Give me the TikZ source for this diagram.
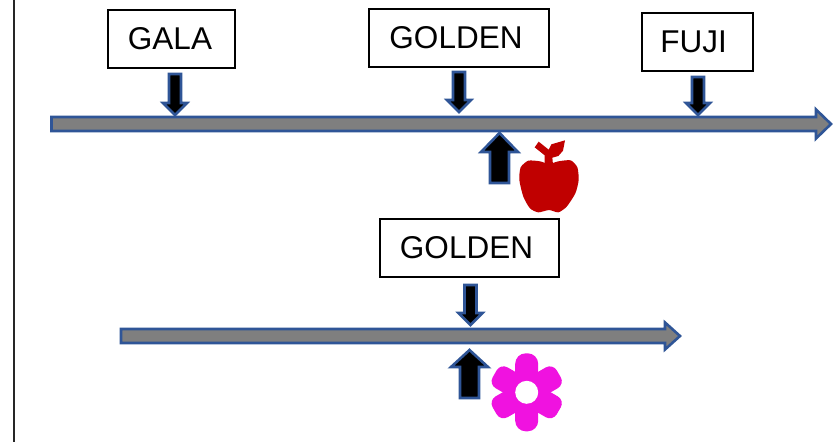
\documentclass[tikz,border=0pt]{standalone}
\usepackage{fontspec}
\setmainfont{Liberation Sans}
\definecolor{arrowblue}{HTML}{2F5597}
\definecolor{shaftgray}{HTML}{7F7F7F}
\definecolor{applered}{HTML}{C00000}
\definecolor{petalpink}{HTML}{F012E0}
\tikzset{
  labelbox/.style={draw=black,line width=1.8pt,fill=white,inner sep=0pt,font=\fontsize{31.5}{36}\selectfont},
  blockarrow/.style={draw=arrowblue,line width=2.6pt,fill=black,miter limit=4},
  longarrow/.style={draw=arrowblue,line width=2.6pt,fill=shaftgray},
}
% centre x, tail y, head base y, tip y, half shaft, half head
\newcommand{\blockarrowshape}[6]{%
  \draw[blockarrow] ({#1-#5},#2) -- ({#1+#5},#2) -- ({#1+#5},#3) -- ({#1+#6},#3)
    -- (#1,#4) -- ({#1-#6},#3) -- ({#1-#5},#3) -- cycle;}
% left x, right x, centre y, head start x, half body, half head
\newcommand{\longarrowshape}[6]{%
  \draw[longarrow] (#1,{#3-#5}) -- (#4,{#3-#5}) -- (#4,{#3-#6}) -- (#2,#3)
    -- (#4,{#3+#6}) -- (#4,{#3+#5}) -- (#1,{#3+#5}) -- cycle;}
\begin{document}
\begin{tikzpicture}[x=1pt,y=-1pt]
\useasboundingbox (0,0) rectangle (834,442);
\fill[white] (0,0) rectangle (834,442);
% left rule
\coordinate (ruletop) at (14,0);
\coordinate (rulebot) at (14,442);
\fill[black!85] (13,0) rectangle (15,442);
% timelines
\longarrowshape{51.5}{831}{124}{816}{7}{14.5}
\longarrowshape{121}{680}{336}{665}{7}{13.5}
% boxes
\node[labelbox,minimum width=127pt,minimum height=58pt] (gala) at (171.5,39) {GALA\kern3pt};
\node[labelbox,minimum width=180pt,minimum height=58pt] (goldena) at (459,38) {GOLDEN\kern6pt};
\node[labelbox,minimum width=111pt,minimum height=58pt] (fuji) at (697.5,42) {FUJI\kern8pt};
\node[labelbox,minimum width=179pt,minimum height=58pt] (goldenb) at (469.5,248) {GOLDEN\kern6pt};
% block arrows
\blockarrowshape{175}{74}{103}{115}{6}{12}
\blockarrowshape{459}{72}{100}{112}{6}{12}
\blockarrowshape{698}{77}{103}{115}{6}{12}
\blockarrowshape{470.5}{285}{313}{325}{6}{12}
\blockarrowshape{499.5}{183}{152}{133}{9.5}{18.5}
\blockarrowshape{469.5}{398}{367}{350}{9.5}{18.5}
% apple
\begin{scope}[shift={(450,90)},scale=1/3]
\fill[applered] plot[smooth cycle,tension=0.4] coordinates {(235,212) (270,214) (297,222) (325,214) (362,211) (382,232) (386,270) (376,310) (350,350) (325,367) (297,360) (265,367) (240,355) (220,320) (208,270) (212,232)};
\fill[applered] (284,225) -- (284,196) -- (254,172) -- (266,155) -- (296,179) -- (304,163) -- (345,151) -- (339,182) -- (325,198) -- (307,203) -- (309,225) -- cycle;
\end{scope}
% flower
\begin{scope}[shift={(526.7,392.3)}]
\foreach \a in {90,270}
  \fill[petalpink,rotate=\a,rounded corners=10.5pt] (0,-11.5) rectangle (39,11.5);
\foreach \a in {30,150,210,330}
  \fill[petalpink,rotate=\a,rounded corners=8pt] (0,-12) rectangle (37,12);
\fill[white] (0,0) circle (11.5);
\end{scope}
\end{tikzpicture}
\end{document}
